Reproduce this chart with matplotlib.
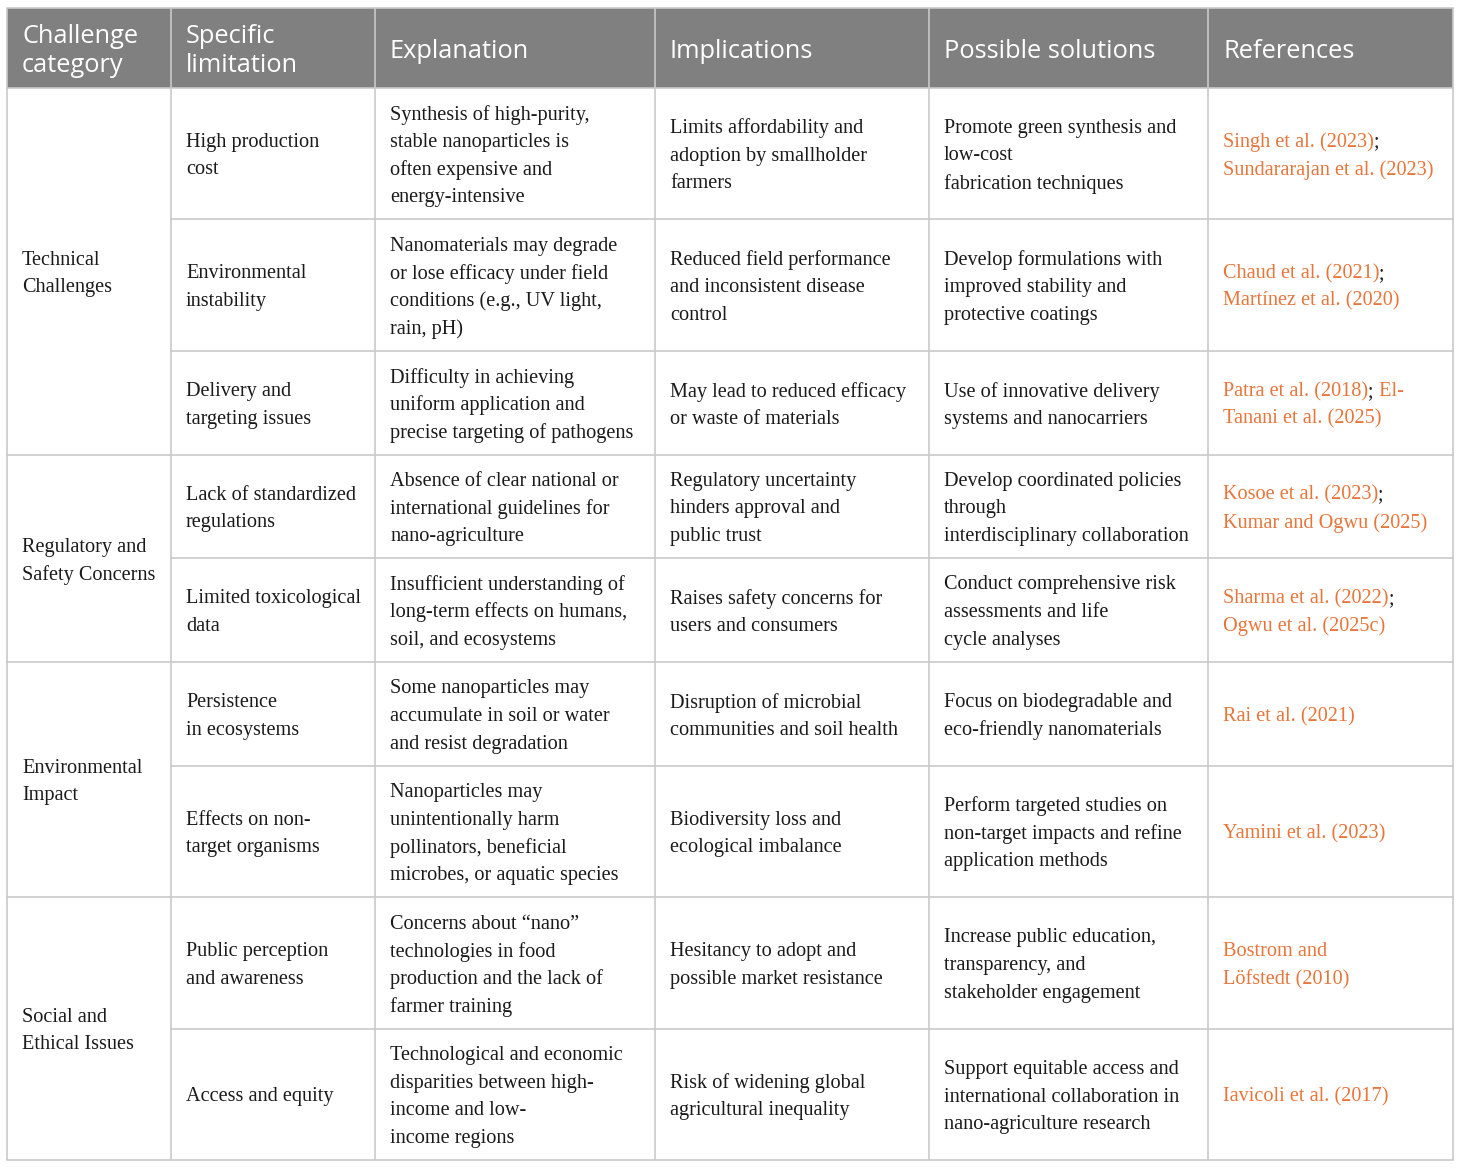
import matplotlib
matplotlib.use("Agg")
import matplotlib.pyplot as plt

# ---- table content (lines wrapped as in the reference) ----
headers = [["Challenge", "category"], ["Specific", "limitation"], ["Explanation"],
           ["Implications"], ["Possible solutions"], ["References"]]

categories = [["Technical", "Challenges"], ["Regulatory and", "Safety Concerns"],
              ["Environmental", "Impact"], ["Social and", "Ethical Issues"]]
category_span = [3, 2, 2, 2]

limitations = [
    ["High production", "cost"],
    ["Environmental", "instability"],
    ["Delivery and", "targeting issues"],
    ["Lack of standardized", "regulations"],
    ["Limited toxicological", "data"],
    ["Persistence", "in ecosystems"],
    ["Effects on non-", "target organisms"],
    ["Public perception", "and awareness"],
    ["Access and equity"],
]
explanations = [
    ["Synthesis of high-purity,", "stable nanoparticles is", "often expensive and", "energy-intensive"],
    ["Nanomaterials may degrade", "or lose efficacy under field", "conditions (e.g., UV light,", "rain, pH)"],
    ["Difficulty in achieving", "uniform application and", "precise targeting of pathogens"],
    ["Absence of clear national or", "international guidelines for", "nano-agriculture"],
    ["Insufficient understanding of", "long-term effects on humans,", "soil, and ecosystems"],
    ["Some nanoparticles may", "accumulate in soil or water", "and resist degradation"],
    ["Nanoparticles may", "unintentionally harm", "pollinators, beneficial", "microbes, or aquatic species"],
    ["Concerns about \u201cnano\u201d", "technologies in food", "production and the lack of", "farmer training"],
    ["Technological and economic", "disparities between high-", "income and low-", "income regions"],
]
implications = [
    ["Limits affordability and", "adoption by smallholder", "farmers"],
    ["Reduced field performance", "and inconsistent disease", "control"],
    ["May lead to reduced efficacy", "or waste of materials"],
    ["Regulatory uncertainty", "hinders approval and", "public trust"],
    ["Raises safety concerns for", "users and consumers"],
    ["Disruption of microbial", "communities and soil health"],
    ["Biodiversity loss and", "ecological imbalance"],
    ["Hesitancy to adopt and", "possible market resistance"],
    ["Risk of widening global", "agricultural inequality"],
]
solutions = [
    ["Promote green synthesis and", "low-cost", "fabrication techniques"],
    ["Develop formulations with", "improved stability and", "protective coatings"],
    ["Use of innovative delivery", "systems and nanocarriers"],
    ["Develop coordinated policies", "through", "interdisciplinary collaboration"],
    ["Conduct comprehensive risk", "assessments and life", "cycle analyses"],
    ["Focus on biodegradable and", "eco-friendly nanomaterials"],
    ["Perform targeted studies on", "non-target impacts and refine", "application methods"],
    ["Increase public education,", "transparency, and", "stakeholder engagement"],
    ["Support equitable access and", "international collaboration in", "nano-agriculture research"],
]
references = [
    ["Singh et al. (2023);", "Sundararajan et al. (2023)"],
    ["Chaud et al. (2021);", "Mart\u00ednez et al. (2020)"],
    ["Patra et al. (2018); El-", "Tanani et al. (2025)"],
    ["Kosoe et al. (2023);", "Kumar and Ogwu (2025)"],
    ["Sharma et al. (2022);", "Ogwu et al. (2025c)"],
    ["Rai et al. (2021)"],
    ["Yamini et al. (2023)"],
    ["Bostrom and", "L\u00f6fstedt (2010)"],
    ["Iavicoli et al. (2017)"],
]

# ---- layout (pixels) ----
W, H = 1460, 1168
col_x = [7, 171, 375, 655, 929, 1208, 1453]
header_y = (8, 88)
row_y = [88, 219, 351, 455, 558, 662, 766, 897, 1029, 1160]
pad = 15
line_h = 27.6
head_line_h = 29

HEADER_BG = "#808080"
GRID = "#c9c9c9"
TEXT = "#1a1a1a"
ORANGE = "#e8753a"
BODY_FONT = dict(family="Liberation Serif", fontsize=14.6)
HEAD_FONT = dict(family="Open Sans", fontsize=18.3)

fig = plt.figure(figsize=(W / 100, H / 100), dpi=100)
ax = fig.add_axes([0, 0, 1, 1])
ax.set_xlim(0, W)
ax.set_ylim(H, 0)
ax.axis("off")
renderer = fig.canvas.get_renderer()


def draw_lines(x, y0, y1, lines, lh, **kw):
    mid = (y0 + y1) / 2
    n = len(lines)
    for i, s in enumerate(lines):
        y = mid + (i - (n - 1) / 2) * lh
        ax.text(x, y, s, ha="left", va="center_baseline", **kw)


def draw_refs(x, y0, y1, lines):
    # orange citation text, black semicolons between them
    mid = (y0 + y1) / 2
    n = len(lines)
    for i, s in enumerate(lines):
        y = mid + (i - (n - 1) / 2) * line_h
        cx = x
        parts = s.split(";")
        for j, p in enumerate(parts):
            if p:
                t = ax.text(cx, y, p, ha="left", va="center_baseline", color=ORANGE, **BODY_FONT)
                cx = t.get_window_extent(renderer).x1
            if j < len(parts) - 1:
                t = ax.text(cx, y, ";", ha="left", va="center_baseline", color=TEXT, **BODY_FONT)
                cx = t.get_window_extent(renderer).x1


# header
ax.add_patch(plt.Rectangle((col_x[0], header_y[0]), col_x[-1] - col_x[0],
                           header_y[1] - header_y[0], facecolor=HEADER_BG, edgecolor="none"))
for c, h in enumerate(headers):
    draw_lines(col_x[c] + pad, header_y[0], header_y[1], h, head_line_h, color="white", **HEAD_FONT)

# body cells
columns = [limitations, explanations, implications, solutions]
for r in range(len(limitations)):
    y0, y1 = row_y[r], row_y[r + 1]
    for k, col in enumerate(columns):
        draw_lines(col_x[k + 1] + pad, y0, y1, col[r], line_h, color=TEXT, **BODY_FONT)
    draw_refs(col_x[5] + pad, y0, y1, references[r])

# categories (merged cells)
start = 0
cat_bounds = []
for cat, span in zip(categories, category_span):
    y0, y1 = row_y[start], row_y[start + span]
    draw_lines(col_x[0] + pad, y0, y1, cat, line_h, color=TEXT, **BODY_FONT)
    cat_bounds.append(start + span)
    start += span

# grid lines
lw = 1.2
for x in col_x:
    ax.plot([x, x], [header_y[0], row_y[-1]], color=GRID, lw=lw, solid_capstyle="butt")
ax.plot([col_x[0], col_x[-1]], [header_y[0]] * 2, color=GRID, lw=lw)
ax.plot([col_x[0], col_x[-1]], [header_y[1]] * 2, color=GRID, lw=lw)
for i in range(1, len(row_y)):
    x_start = col_x[0] if i in cat_bounds else col_x[1]
    ax.plot([x_start, col_x[-1]], [row_y[i]] * 2, color=GRID, lw=lw)

fig.savefig("out.png", dpi=100)
